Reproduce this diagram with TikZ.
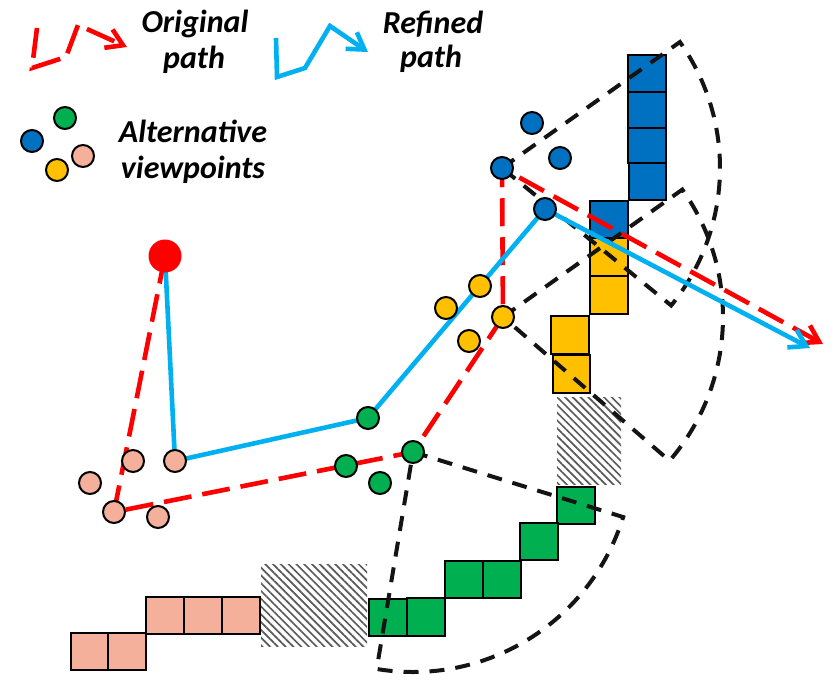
\documentclass[tikz,border=0pt]{standalone}
\usepackage{fontspec}
\setmainfont{Carlito}
\usetikzlibrary{arrows.meta,patterns.meta}
\definecolor{cred}{HTML}{FF0000}
\definecolor{ccyan}{HTML}{00B0F0}
\definecolor{cblue}{HTML}{0070C0}
\definecolor{cgreen}{HTML}{00B050}
\definecolor{cyellow}{HTML}{FFC000}
\definecolor{cpink}{HTML}{F4B09A}
\definecolor{chatch}{HTML}{595959}
\pgfdeclarelayer{back}
\pgfdeclarelayer{mid}
\pgfsetlayers{back,mid,main}
\begin{document}
\begin{tikzpicture}[x=1pt,y=-1pt,
  vp/.style={circle,draw=black,line width=2pt,minimum size=22pt,inner sep=0pt},
  sq/.style={draw=black,line width=2.4pt},
  hatch/.style={pattern={Lines[angle=-45,distance=5.5pt,line width=1.7pt]},pattern color=chatch},
  orig/.style={draw=cred,line width=4.6pt,dash pattern=on 28pt off 11pt},
  refi/.style={draw=ccyan,line width=4.6pt},
  fov/.style={draw=black!92,line width=4pt,dash pattern=on 15pt off 11pt},
  barb/.style={-{Straight Barb[length=16pt,width=20pt]}},
  lbl/.style={font=\fontsize{32}{36}\selectfont\bfseries\itshape,inner sep=0pt,anchor=base}]
\useasboundingbox (0,0) rectangle (836,680);

% ---------- legend ----------
\node[lbl] (t1) at (195,32) {Original};
\node[lbl] (t2) at (194,68) {path};
\node[lbl] (t3) at (433,33) {Refined};
\node[lbl] (t4) at (431,67) {path};
\node[lbl] (t5) at (193,142) {Alternative};
\node[lbl] (t6) at (193,178) {viewpoints};
\draw[orig,dash pattern=on 30pt off 10pt,barb] (37,28) -- (32,68) -- (66,57) -- (78,25) -- (127,47);
\draw[refi,barb] (276,38) -- (277,77) -- (305,68) -- (330,26) -- (368,52);
\node[vp,fill=cgreen] (lg) at (65,118) {};
\node[vp,fill=cblue] (lb) at (32,141) {};
\node[vp,fill=cpink] (lp) at (83,156) {};
\node[vp,fill=cyellow] (ly) at (57,170) {};

% ---------- viewpoints ----------
\node[circle,fill=cred,minimum size=33pt,inner sep=0pt] (s) at (165,256) {};
\node[vp,fill=cpink] (k1) at (133,461) {};
\node[vp,fill=cpink] (k2) at (175,461) {};
\node[vp,fill=cpink] (k3) at (90,483) {};
\node[vp,fill=cpink] (k4) at (114,512) {};
\node[vp,fill=cpink] (k5) at (158,517) {};
\node[vp,fill=cgreen] (g1) at (368,418) {};
\node[vp,fill=cgreen] (g2) at (346,466) {};
\node[vp,fill=cgreen] (g3) at (380,483) {};
\node[vp,fill=cgreen] (g4) at (413,452) {};
\node[vp,fill=cyellow] (y1) at (446,308) {};
\node[vp,fill=cyellow] (y2) at (480,286) {};
\node[vp,fill=cyellow] (y3) at (469,341) {};
\node[vp,fill=cyellow] (y4) at (503,317) {};
\node[vp,fill=cblue] (b1) at (532,123) {};
\node[vp,fill=cblue] (b2) at (560,158) {};
\node[vp,fill=cblue] (b3) at (502,168) {};
\node[vp,fill=cblue] (b4) at (545,209) {};
\coordinate (rend) at (823,344);
\coordinate (bend) at (810,348);

% ---------- obstacles ----------
\begin{pgfonlayer}{back}
\fill[hatch] (557,397) rectangle (621,484);
\fill[hatch] (261,564) rectangle (367,646);
\foreach \a/\b/\c/\d in {628/55/666/92,628/92/666/128,628/128/666/163,629/163/666/200,590/201/628/238}
  \draw[sq,fill=cblue] (\a,\b) rectangle (\c,\d);
\foreach \a/\b/\c/\d in {590/238/628/276,590/276/628/314,551/316/589/354,553/355/590/393}
  \draw[sq,fill=cyellow] (\a,\b) rectangle (\c,\d);
\foreach \a/\b/\c/\d in {557/487/595/524,520/523/558/560,445/561/483/598,483/561/521/598,369/599/407/636,407/598/445/636}
  \draw[sq,fill=cgreen] (\a,\b) rectangle (\c,\d);
\foreach \a/\b/\c/\d in {146/597/184/634,184/597/222/634,222/597/260/634,71/633/108/670,108/633/146/670}
  \draw[sq,fill=cpink] (\a,\b) rectangle (\c,\d);
\end{pgfonlayer}

% ---------- fields of view and paths ----------
\begin{pgfonlayer}{mid}
\draw[fov] (b3.center) -- ++(-35.3:218) arc[start angle=-35.3,end angle=39.1,radius=218] -- cycle;
\draw[fov] (y4.center) -- ++(-35.4:220) arc[start angle=-35.4,end angle=40.8,radius=220] -- cycle;
\draw[fov] (g4.center) -- ++(17.2:220) arc[start angle=17.2,end angle=99.5,radius=220] -- cycle;
\draw[orig,barb] (s.center) -- (k4.center) -- (g4.center) -- (y4.center) -- (b3.center) -- (rend);
\draw[refi,barb] (s.center) -- (k2.center) -- (g1.center) -- (b4.center) -- (bend);
\end{pgfonlayer}
\end{tikzpicture}
\end{document}
